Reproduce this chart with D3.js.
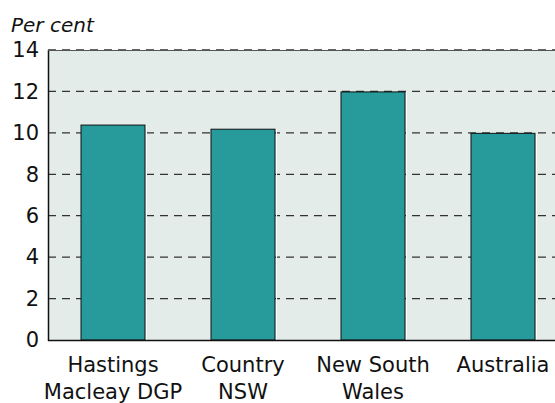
<!DOCTYPE html>
<html>
<head>
<meta charset="utf-8">
<script src="https://cdn.jsdelivr.net/npm/d3@7"></script>
<style>
  html, body { margin: 0; padding: 0; background: #fff; }
  svg { display: block; }
  text { font-family: "DejaVu Sans", sans-serif; fill: #111; }
</style>
</head>
<body>
<script>
// Data
const categories = ["Hastings\nMacleay DGP", "Country\nNSW", "New South\nWales", "Australia"];
const values = [10.4, 10.2, 12.0, 10.0];
const yTicks = [0, 2, 4, 6, 8, 10, 12, 14];
const yLabel = "Per cent";

const W = 555, H = 403;
const plot = { left: 48, top: 50, bottom: 340, right: 555 };
const FONT = "'DejaVu Sans', sans-serif";

const svg = d3.select("body").append("svg").attr("width", W).attr("height", H);

const x = d3.scaleBand()
  .domain(categories)
  .range([plot.left, plot.left + 520])
  .paddingInner(0.5)
  .paddingOuter(0.25);

const y = d3.scaleLinear().domain([0, 14]).range([plot.bottom, plot.top]);

// plot background
svg.append("rect")
  .attr("x", plot.left).attr("y", plot.top)
  .attr("width", plot.right - plot.left).attr("height", plot.bottom - plot.top)
  .attr("fill", "#e4ece9");

// dashed gridlines
svg.append("g")
  .selectAll("line")
  .data(yTicks.filter(d => d > 0))
  .join("line")
  .attr("x1", plot.left).attr("x2", plot.right)
  .attr("y1", d => y(d)).attr("y2", d => y(d))
  .attr("stroke", "#333").attr("stroke-width", 1.3)
  .attr("stroke-dasharray", "8,6");

// bars
const bars = svg.append("g");
bars.selectAll("rect.bar")
  .data(values)
  .join("rect")
  .attr("class", "bar")
  .attr("x", (d, i) => x(categories[i]) + 0.5)
  .attr("y", d => y(d) + 0.5)
  .attr("width", x.bandwidth() - 1)
  .attr("height", d => plot.bottom - y(d) - 0.5)
  .attr("fill", "#279b9b")
  .attr("stroke", "#111")
  .attr("stroke-width", 1);

// light edge on the right side of each bar
bars.selectAll("line.hl")
  .data(values)
  .join("line")
  .attr("class", "hl")
  .attr("x1", (d, i) => x(categories[i]) + x.bandwidth() + 1)
  .attr("x2", (d, i) => x(categories[i]) + x.bandwidth() + 1)
  .attr("y1", d => y(d) + 1)
  .attr("y2", plot.bottom)
  .attr("stroke", "#ffffff").attr("stroke-width", 1);

// frame: left and bottom axis lines, top edge
svg.append("line")
  .attr("x1", plot.left + 0.5).attr("x2", plot.left + 0.5)
  .attr("y1", plot.top).attr("y2", plot.bottom + 1)
  .attr("stroke", "#111").attr("stroke-width", 1.5);
svg.append("line")
  .attr("x1", plot.left).attr("x2", plot.right)
  .attr("y1", plot.bottom + 0.5).attr("y2", plot.bottom + 0.5)
  .attr("stroke", "#111").attr("stroke-width", 1.5);
svg.append("line")
  .attr("x1", plot.left).attr("x2", plot.right)
  .attr("y1", plot.top + 0.5).attr("y2", plot.top + 0.5)
  .attr("stroke", "#555").attr("stroke-width", 1);

// y axis labels
const yAxis = d3.axisLeft(y).tickValues(yTicks).tickSize(0).tickPadding(9);
const gy = svg.append("g")
  .attr("transform", `translate(${plot.left},0)`)
  .call(yAxis);
gy.select(".domain").remove();
gy.selectAll("text")
  .attr("font-size", 21)
  .attr("font-family", FONT)
  .attr("fill", "#111");

svg.append("text")
  .attr("x", 11).attr("y", 32)
  .attr("font-size", 20)
  .attr("font-style", "italic")
  .text(yLabel);

// category labels (two lines each)
const xl = svg.append("g");
categories.forEach(c => {
  const lines = c.split("\n");
  const cx = x(c) + x.bandwidth() / 2;
  const t = xl.append("text")
    .attr("text-anchor", "middle")
    .attr("font-size", 21)
    .attr("x", cx)
    .attr("y", 372);
  lines.forEach((l, j) => {
    t.append("tspan")
      .attr("x", cx)
      .attr("dy", j === 0 ? 0 : 27)
      .text(l);
  });
});
</script>
</body>
</html>
